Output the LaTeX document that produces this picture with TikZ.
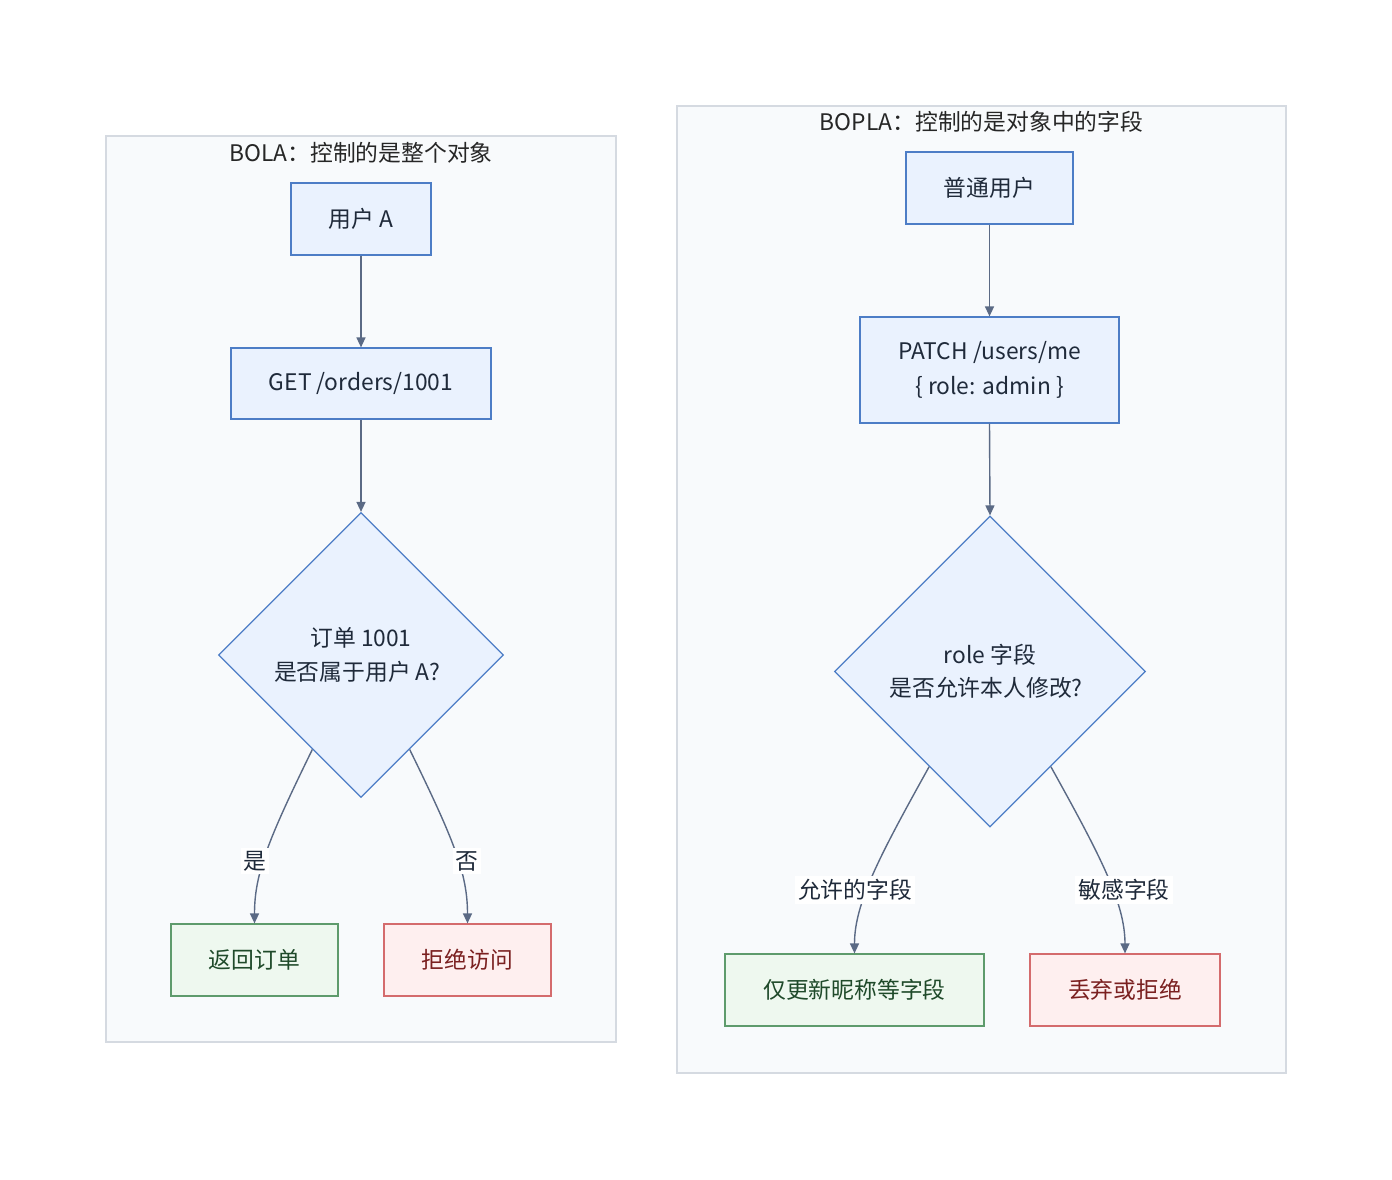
\documentclass[tikz,border=0pt]{standalone}
\usepackage{fontspec}
\setmainfont{Noto Sans CJK SC}
\usetikzlibrary{shapes.geometric,arrows.meta,calc}
\definecolor{clfill}{HTML}{F8FAFC}
\definecolor{cldraw}{HTML}{D5DAE1}
\definecolor{bxfill}{HTML}{EAF2FE}
\definecolor{bxdraw}{HTML}{4D7DC6}
\definecolor{gnfill}{HTML}{EEF8EF}
\definecolor{gndraw}{HTML}{5E9B6C}
\definecolor{gntext}{HTML}{1F4A2A}
\definecolor{rdfill}{HTML}{FEEFEF}
\definecolor{rddraw}{HTML}{D46B6D}
\definecolor{rdtext}{HTML}{7A2020}
\definecolor{edgec}{HTML}{5B6A85}
\definecolor{txt}{HTML}{1F2A3A}
\tikzset{
  cluster/.style={draw=cldraw, fill=clfill, line width=1.2pt},
  ctitle/.style={text=black!85, font=\fontsize{22.8}{34}\selectfont, inner sep=0pt},
  bx/.style={draw=bxdraw, fill=bxfill, line width=1.2pt, text=txt, inner sep=0pt,
     align=center, font=\fontsize{22.8}{35}\selectfont},
  gbox/.style={bx, draw=gndraw, fill=gnfill, text=gntext},
  rbox/.style={bx, draw=rddraw, fill=rdfill, text=rdtext},
  dec/.style={bx, shape=diamond, aspect=1, font=\fontsize{22.8}{33.5}\selectfont},
  edge/.style={draw=edgec, line width=1.4pt, -{Triangle[length=10pt,width=9pt]}},
  lbl/.style={fill=white, text=txt, inner sep=3pt, font=\fontsize{22.8}{30}\selectfont}
}
\begin{document}
\begin{tikzpicture}[x=1pt,y=-1pt]
\useasboundingbox[fill=white] (0,0) rectangle (1392,1180);
% clusters
\draw[cluster] (106,136) rectangle (616,1042);
\node[ctitle] (t1) at (361,153) {BOLA：控制的是整个对象};
\draw[cluster] (677,106) rectangle (1286,1073);
\node[ctitle] (t2) at (981.5,122) {BOPLA：控制的是对象中的字段};
% left nodes
\node[bx, minimum width=140pt, minimum height=72pt] (ua) at (361,219) {用户 A};
\node[bx, minimum width=260pt, minimum height=71pt] (get) at (361,383.5) {GET /orders/1001};
\node[dec, minimum width=285pt, minimum height=285pt] (d1) at (361,655) {订单 1001\\是否属于用户 A?\hspace*{8pt}};
\node[gbox, minimum width=167pt, minimum height=72pt] (ret) at (254.5,960) {返回订单};
\node[rbox, minimum width=167pt, minimum height=72pt] (rej) at (467.5,960) {拒绝访问};
% right nodes
\node[bx, minimum width=167pt, minimum height=72pt] (nu) at (989.5,188) {普通用户};
\node[bx, minimum width=259pt, minimum height=106pt] (patch) at (989.5,370) {PATCH /users/me\\\{ role: admin \}};
\node[dec, minimum width=311pt, minimum height=311pt] (d2) at (990,671.5) {role 字段\\是否允许本人修改?\hspace*{8pt}};
\node[gbox, minimum width=259pt, minimum height=72pt] (upd) at (854.5,990) {仅更新昵称等字段};
\node[rbox, minimum width=190pt, minimum height=72pt] (drop) at (1125,990) {丢弃或拒绝};
% straight edges
\draw[edge] (ua.south) -- (get.north);
\draw[edge] (get.south) -- (d1.north);
\draw[edge] (nu.south) -- (patch.north);
\draw[edge] (patch.south) -- (d2.north);
% curved edges
\coordinate (a1) at ($(d1.west)!0.66!(d1.south)$);
\coordinate (a2) at ($(d1.east)!0.66!(d1.south)$);
\draw[edge] (a1) .. controls ($(a1)+(-44,90)$) and ($(ret.north)+(0,-50)$) .. (ret.north);
\draw[edge] (a2) .. controls ($(a2)+(44,90)$) and ($(rej.north)+(0,-50)$) .. (rej.north);
\coordinate (b1) at ($(d2.west)!0.61!(d2.south)$);
\coordinate (b2) at ($(d2.east)!0.61!(d2.south)$);
\draw[edge] (b1) .. controls ($(b1)+(-50,90)$) and ($(upd.north)+(0,-50)$) .. (upd.north);
\draw[edge] (b2) .. controls ($(b2)+(50,90)$) and ($(drop.north)+(0,-50)$) .. (drop.north);
% edge labels
\node[lbl] (l1) at (255,861) {是};
\node[lbl] (l2) at (467,861) {否};
\node[lbl] (l3) at (855,890) {允许的字段};
\node[lbl] (l4) at (1124,890) {敏感字段};
\end{tikzpicture}
\end{document}
